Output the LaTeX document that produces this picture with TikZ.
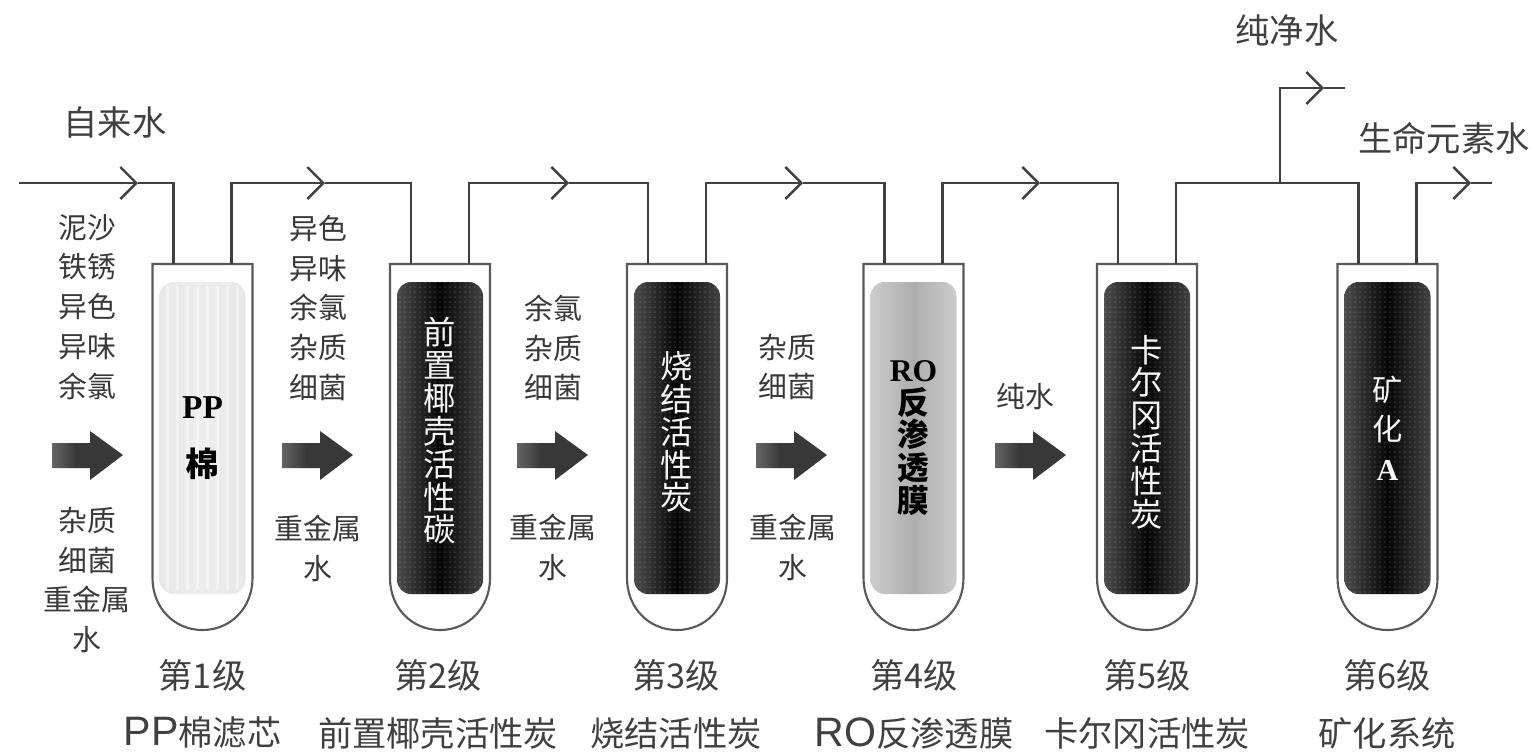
\documentclass[tikz,border=0pt]{standalone}
\usepackage{fontspec}
\setmainfont{Noto Sans CJK SC}
\newfontfamily\lat{Liberation Serif}
\newfontfamily\ls[Scale=1.2]{Liberation Sans}
\usetikzlibrary{arrows.meta,patterns.meta}
\pgfdeclarehorizontalshading{blk}{100bp}{color(0bp)=(black!68); color(25bp)=(black!70); color(50bp)=(black!98); color(75bp)=(black!74); color(90bp)=(black!76); color(100bp)=(black!86)}
\pgfdeclarehorizontalshading{ro}{100bp}{color(0bp)=(black!45); color(25bp)=(black!20); color(50bp)=(black!32); color(75bp)=(black!20); color(100bp)=(black!45)}
\pgfdeclarehorizontalshading{pp}{100bp}{color(0bp)=(black!11); color(50bp)=(black!7); color(100bp)=(black!11)}
\pgfdeclarehorizontalshading{arw}{100bp}{color(0bp)=(black!35); color(42bp)=(black!78); color(100bp)=(black!78)}
\tikzset{
  pipe/.style={draw=black!75,line width=0.7pt},
  barb/.style={-{Straight Barb[length=1.6mm,width=3.2mm]}},
  lb/.style={text=black!78,align=center,font=\fontsize{8.2}{11.34}\selectfont,inner sep=0pt},
  capt/.style={text=black!75,font=\fontsize{9.75}{11}\selectfont,inner sep=0pt},
  wt/.style={text=black!4,align=center,font=\fontsize{9.2}{9.35}\selectfont,inner sep=0pt},
  bk/.style={wt,text=black,font=\fontsize{9}{9.35}\selectfont\bfseries}
}
% tube: name, shading
\newcommand{\tb}[2]{%
  \coordinate (#1i) at (-29,264); \coordinate (#1o) at (29,264);
  \draw[draw=black!65,line width=0.6pt] (-50,264) -- (50,264) -- (50,578) .. controls (50,608) and (28,630) .. (0,630) .. controls (-28,630) and (-50,608) .. (-50,578) -- cycle;
  \shade[shading=#2,rounded corners=4pt] (-43,282) rectangle (43,594);}
% speckle on the dark cartridges
\newcommand{\spk}{\fill[opacity=0.14,pattern={Dots[distance=0.5mm,radius=0.1mm]},pattern color=white,rounded corners=4pt] (-43,282) rectangle (43,594);}
% block arrow at left end
\newcommand{\ba}[1]{\shade[shading=arw] (#1,443) -- ++(38,0) -- ++(0,-12) -- ++(33,24) -- ++(-33,25) -- ++(0,-12) -- ++(-38,0) -- cycle;}
\begin{document}
\begin{tikzpicture}[x=0.1mm,y=-0.1mm]
  \useasboundingbox (0,0) rectangle (1535,752);
  \begin{scope}[shift={( 202.5,0)}] \tb{t1}{pp}
    \foreach \i in {-35,-25,...,35} {\draw[white,opacity=0.4,line width=1pt] (\i,286) -- (\i,590);}
    \node[bk,font=\fontsize{9.5}{16.7}\selectfont\bfseries] (c1) at (0,438) {{\lat PP}\\棉}; \end{scope}
  \begin{scope}[shift={( 440,0)}] \tb{t2}{blk} \spk \node[wt] (c2) at (0,431) {前\\置\\椰\\壳\\活\\性\\碳}; \end{scope}
  \begin{scope}[shift={( 677,0)}] \tb{t3}{blk} \spk \node[wt] (c3) at (0,432) {烧\\结\\活\\性\\炭}; \end{scope}
  \begin{scope}[shift={( 913.5,0)}] \tb{t4}{ro} \node[bk] (c4) at (0,438) {{\lat RO}\\反\\渗\\透\\膜}; \end{scope}
  \begin{scope}[shift={(1147,0)}] \tb{t5}{blk} \spk \node[wt] (c5) at (0,432) {卡\\尔\\冈\\活\\性\\炭}; \end{scope}
  \begin{scope}[shift={(1387.5,0)}] \tb{t6}{blk} \spk \node[wt,font=\fontsize{8.6}{11.3}\selectfont] (c6) at (0,428) {矿\\化\\{\lat\bfseries A}}; \end{scope}
  % pipes
  \coordinate (s0) at (19,183); \coordinate (a1) at (138,183); \coordinate (a2) at (325,183);
  \coordinate (a3) at (569,183); \coordinate (a4) at (803,183); \coordinate (a5) at (1040,183);
  \coordinate (jn) at (1280,183); \coordinate (a6) at (1324,88); \coordinate (e6) at (1345,88);
  \coordinate (a7) at (1471,183); \coordinate (e7) at (1492,183);
  \draw[pipe,barb] (s0) -- (a1); \draw[pipe] (a1) -| (t1i);
  \foreach \i/\j in {1/2,2/3,3/4,4/5} {\draw[pipe,barb] (t\i o) |- (a\j); \draw[pipe] (a\j) -| (t\j i);}
  \draw[pipe] (t5o) |- (jn) -| (t6i);
  \draw[pipe,barb] (jn) |- (a6); \draw[pipe] (a6) -- (e6);
  \draw[pipe,barb] (t6o) |- (a7); \draw[pipe] (a7) -- (e7);
  % block arrows
  \ba{52} \ba{282} \ba{517} \ba{756} \ba{995}
  % labels
  \node[capt] (in) at (115,122) {自来水};
  \node[capt] (pw) at (1287,30) {纯净水};
  \node[capt] (lw) at (1444,138) {生命元素水};
  \node[lb] (u1) at (87,307) {泥沙\\铁锈\\异色\\异味\\余氯};
  \node[lb] (d1) at (87,580) {杂质\\细菌\\重金属\\水};
  \node[lb] (u2) at (318,308) {异色\\异味\\余氯\\杂质\\细菌};
  \node[lb] (d2) at (318,548) {重金属\\水};
  \node[lb] (u3) at (553,348) {余氯\\杂质\\细菌};
  \node[lb] (d3) at (553,547) {重金属\\水};
  \node[lb] (u4) at (787,367) {杂质\\细菌};
  \node[lb] (d4) at (793,547) {重金属\\水};
  \node[lb] (u5) at (1025,397) {纯水};
  \foreach \n/\x/\t in {1/202.5/{\ls PP}棉滤芯,2/438/前置椰壳活性炭,3/676/烧结活性炭,4/914/{\ls RO}反渗透膜,5/1147/卡尔冈活性炭,6/1387/矿化系统}
    {\node[capt] (g\n) at (\x,675) {第\n 级}; \node[capt] (m\n) at (\x,733) {\t};}
\end{tikzpicture}
\end{document}
